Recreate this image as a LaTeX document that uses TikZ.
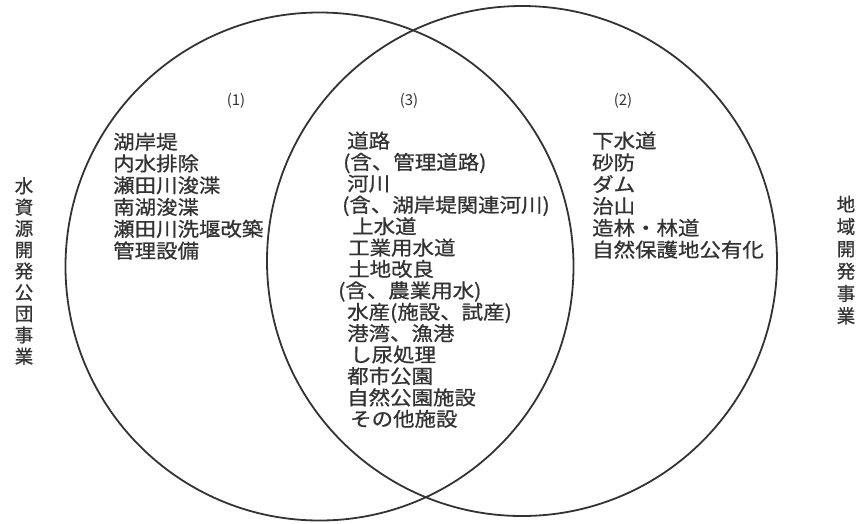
\documentclass[tikz,border=0pt]{standalone}
\usepackage{fontspec}
\newfontfamily\cjk[FakeStretch=1.1,FakeBold=0.8]{Noto Sans CJK JP}
\newfontfamily\cjkv[FakeBold=0.8]{Noto Sans CJK JP}
\newfontfamily\cjkt{Noto Sans CJK JP}
\definecolor{ink}{HTML}{333333}
\begin{document}
\begin{tikzpicture}[x=1pt,y=-1pt,
  ring/.style={draw=ink,line width=1.8pt},
  item/.style={anchor=base west,inner sep=0pt,text=ink,font=\cjk\fontsize{19.5}{21.5}\selectfont},
  tag/.style={inner sep=0pt,text=ink,font=\cjkt\fontsize{15}{15}\selectfont},
  vlabel/.style={inner sep=0pt,text=ink,align=center}]
\useasboundingbox (0,0) rectangle (858,523);
\fill[white] (0,0) rectangle (858,523);
% circles
\node[ring,circle,minimum size=508pt,inner sep=0pt] (cL) at (319.5,266.5) {};
\node[ring,circle,minimum size=510pt,inner sep=0pt] (cR) at (522,261) {};
% region tags
\node[tag] (t1) at (236,101) {(1)};
\node[tag] (t3) at (409,101) {(3)};
\node[tag] (t2) at (623,101) {(2)};
% left column
\foreach \t [count=\i] in {湖岸堤,内水排除,瀬田川浚渫,南湖浚渫,瀬田川洗堰改築,管理設備}
  \node[item] (a\i) at (113,{149+(\i-1)*21.8}) {\t};
% middle column
\foreach \t/\x [count=\i] in {道路/347,(含、管理道路)/343,河川/347,(含、湖岸堤関連河川)/342,上水道/352,工業用水道/348,土地改良/348,(含、農業用水)/338,水産(施設、試産)/347,港湾、漁港/347,し尿処理/350,都市公園/347,自然公園施設/347,その他施設/350}
  \node[item] (b\i) at (\x,{148+(\i-1)*21.4}) {\t};
% right column
\foreach \t [count=\i] in {下水道,砂防,ダム,治山,造林・林道,自然保護地公有化}
  \node[item] (c\i) at (592,{148+(\i-1)*21.8}) {\t};
% vertical labels
\node[vlabel,font=\cjkv\fontsize{18.5}{21.3}\selectfont] (vl) at (24,271) {水\\資\\源\\開\\発\\公\\団\\事\\業};
\node[vlabel,font=\cjkv\fontsize{18.5}{22.3}\selectfont] (vr) at (846,260) {地\\域\\開\\発\\事\\業};
\end{tikzpicture}
\end{document}
